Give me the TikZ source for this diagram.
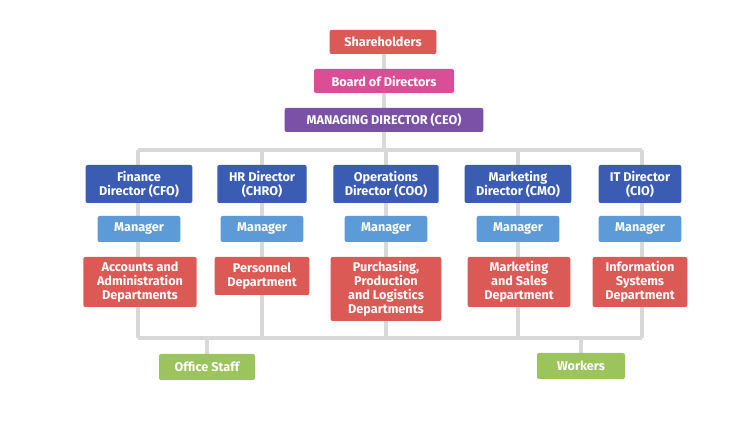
\documentclass[tikz,border=0pt]{standalone}
\usepackage{fontspec}
\setmainfont{Fira Sans}
\begin{document}
\begin{tikzpicture}[x=0.75pt,y=-0.75pt,
  bx/.style={rounded corners=1.5pt,text=white,font=\bfseries\fontsize{9.5}{10.5}\selectfont,align=center,inner sep=0pt,minimum height=18pt},
  ln/.style={draw=black!15,line width=3pt}]
\definecolor{cred}{HTML}{DB5A55}
\definecolor{cpink}{HTML}{DA4E98}
\definecolor{cpur}{HTML}{7A51A6}
\definecolor{cdb}{HTML}{3A5CB2}
\definecolor{clb}{HTML}{5C9BD7}
\definecolor{cgr}{HTML}{9CC45C}
\useasboundingbox (0,0) rectangle (740,427);
% lines first
\coordinate (tl) at (138,150); \coordinate (tr) at (642,150);
\coordinate (bl) at (138,338); \coordinate (br) at (642,338);
\draw[ln] (384,42) -- (384,150);
\draw[ln] (tl) -- (tr);
\draw[ln] (bl) -- (br);
\foreach \x in {138,262,386,518,642} \draw[ln] (\x,150) -- (\x,338);
\draw[ln] (207,338) -- (207,367);
\draw[ln] (581,338) -- (581,366);
% nodes
\node[bx,fill=cred,minimum width=80pt,minimum height=18pt] (sh) at (383,42) {Shareholders};
\node[bx,fill=cpink,minimum width=105pt] (bd) at (384,81) {Board of Directors};
\node[bx,fill=cpur,minimum width=149pt] (ceo) at (384,120) {MANAGING DIRECTOR (CEO)};
\foreach \n/\x/\w/\t in {f/139/80/{Finance\\Director (CFO)},h/262/67/{HR Director\\(CHRO)},o/386/79/{Operations\\Director (COO)},m/518/80/{Marketing\\Director (CMO)},i/640/62/{IT Director\\(CIO)}}
  \node[bx,fill=cdb,minimum width=\w pt,minimum height=28.5pt] (d\n) at (\x,184) {\t};
\foreach \n/\x in {f/139,h/262,o/386,m/518,i/640}
  \node[bx,fill=clb,minimum width=62pt,minimum height=19.5pt] (m\n) at (\x,229) {Manager};
\node[bx,fill=cred,minimum width=85pt,minimum height=37.5pt] (pf) at (140,282) {Accounts and\\Administration\\Departments};
\node[bx,fill=cred,minimum width=71pt,minimum height=28.5pt] (ph) at (262,276) {Personnel\\Department};
\node[bx,fill=cred,minimum width=83pt,minimum height=48pt] (po) at (386,289) {Purchasing,\\Production\\and Logistics\\Departments};
\node[bx,fill=cred,minimum width=77pt,minimum height=37.5pt] (pm) at (519,282) {Marketing\\and Sales\\Department};
\node[bx,fill=cred,minimum width=71pt,minimum height=37.5pt] (pi) at (640,282) {Information\\Systems\\Department};
\node[bx,fill=cgr,minimum width=72pt,minimum height=19.5pt] (os) at (207,367) {Office Staff};
\node[bx,fill=cgr,minimum width=66pt,minimum height=19.5pt] (wk) at (581,366) {Workers};
\end{tikzpicture}
\end{document}
